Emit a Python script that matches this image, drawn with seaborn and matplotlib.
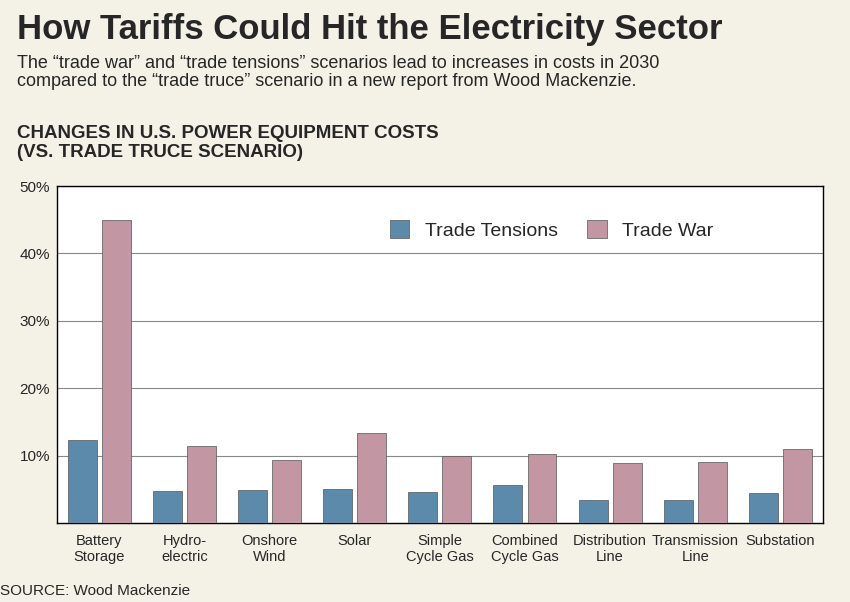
import matplotlib
matplotlib.use("Agg")
import matplotlib.pyplot as plt
import seaborn as sns
import pandas as pd

categories = ["Battery\nStorage", "Hydro-\nelectric", "Onshore\nWind", "Solar", "Simple\nCycle Gas",
              "Combined\nCycle Gas", "Distribution\nLine", "Transmission\nLine", "Substation"]
trade_tensions = [12.3, 4.8, 4.9, 5.1, 4.6, 5.6, 3.5, 3.5, 4.4]
trade_war = [45.0, 11.4, 9.4, 13.3, 9.9, 10.3, 8.9, 9.0, 11.0]

df = pd.DataFrame({"cat": categories * 2,
                   "val": trade_tensions + trade_war,
                   "series": ["Trade Tensions"] * 9 + ["Trade War"] * 9})

sns.set_style("white")
plt.rcParams["font.family"] = ["Liberation Sans", "DejaVu Sans"]
bg = "#f4f2e7"
fig = plt.figure(figsize=(8.5, 6.02), dpi=100, facecolor=bg)
ax = fig.add_axes([0.067, 0.131, 0.901, 0.56])
sns.barplot(data=df, x="cat", y="val", hue="series", ax=ax, saturation=1,
            palette={"Trade Tensions": "#5b8aab", "Trade War": "#c396a3"},
            width=0.8, gap=0.15, edgecolor="#555555", linewidth=0.5, zorder=3)
ax.set_ylim(0, 50)
ax.set_yticks([10, 20, 30, 40, 50])
ax.set_yticklabels([f"{v}%" for v in [10, 20, 30, 40, 50]], fontsize=11)
ax.tick_params(axis="y", length=0, pad=5)
ax.tick_params(axis="x", length=0, labelsize=10.5, pad=8)
ax.grid(axis="y", color="#888888", linewidth=0.8, zorder=0)
ax.set_xlabel("")
ax.set_ylabel("")
for s in ax.spines.values():
    s.set_color("black")
    s.set_linewidth(1)
ax.legend(loc="upper right", bbox_to_anchor=(0.88, 0.95), ncol=2, frameon=False,
          fontsize=14, handlelength=1.0, handleheight=1.0, columnspacing=1.5)

fig.text(0.02, 0.935, "How Tariffs Could Hit the Electricity Sector", fontsize=25, fontweight="bold")
fig.text(0.02, 0.857, "The \u201ctrade war\u201d and \u201ctrade tensions\u201d scenarios lead to increases in costs in 2030\n"
         "compared to the \u201ctrade truce\u201d scenario in a new report from Wood Mackenzie.",
         fontsize=13, linespacing=1.1)
fig.text(0.02, 0.74, "CHANGES IN U.S. POWER EQUIPMENT COSTS\n(VS. TRADE TRUCE SCENARIO)",
         fontsize=13.5, fontweight="bold", linespacing=1.15)
fig.text(0.0, 0.012, "SOURCE: Wood Mackenzie", fontsize=11)

fig.savefig("out.png", dpi=100, facecolor=bg)
